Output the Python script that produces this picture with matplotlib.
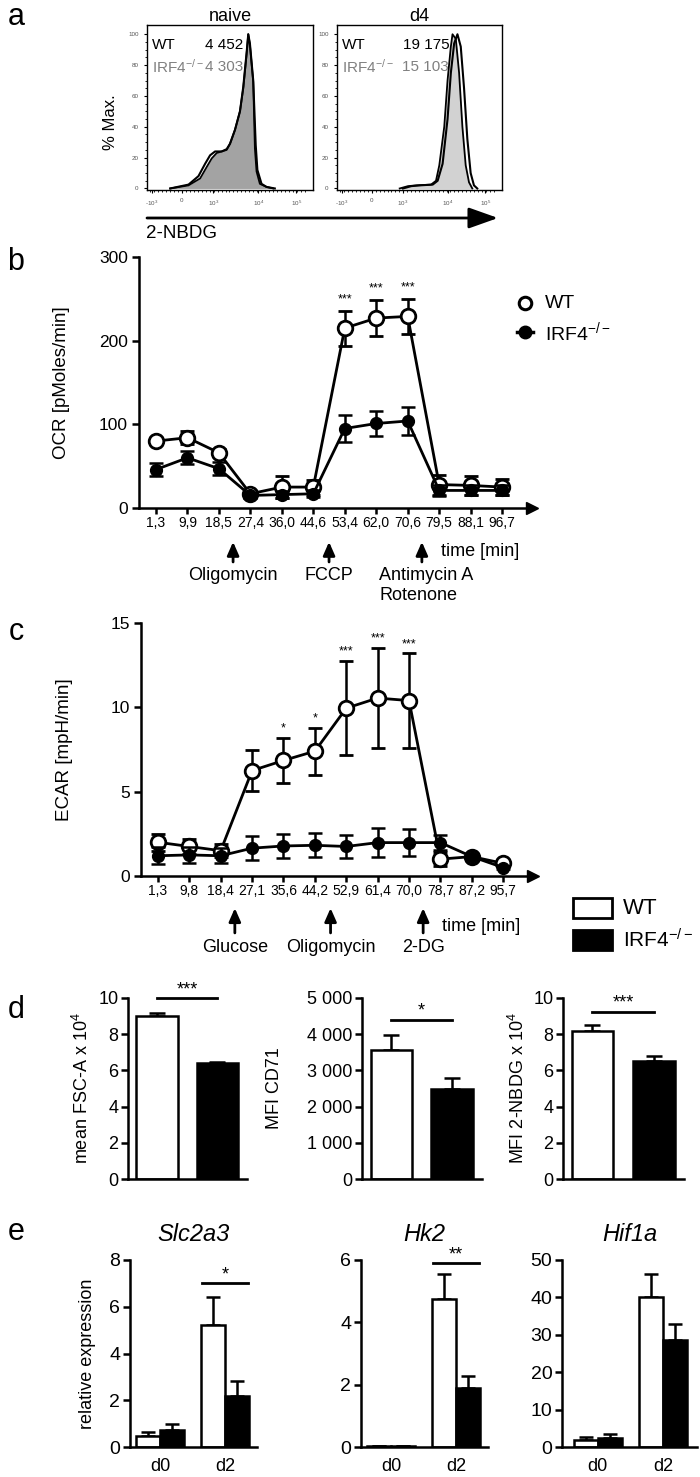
import matplotlib
matplotlib.use('Agg')
import matplotlib.pyplot as plt
from matplotlib.patches import Rectangle, FancyArrowPatch
import numpy as np

plt.rcParams['font.family'] = ['Liberation Sans', 'DejaVu Sans']
plt.rcParams['mathtext.fontset'] = 'custom'
plt.rcParams['mathtext.rm'] = 'Liberation Sans'
plt.rcParams['mathtext.it'] = 'Liberation Sans:italic'

W, H = 700, 1477

#
# DATA
#
# a : 2-NBDG histograms, x = position on biexponential display (0..1), y = % max
naive_ko_x = [0.14, 0.25, 0.32, 0.36, 0.39, 0.42, 0.45, 0.48, 0.50, 0.53, 0.56, 0.58, 0.60, 0.61, 0.62, 0.64, 0.65, 0.66, 0.68, 0.72, 0.76]
naive_ko_y = [0, 2, 6.5, 14, 19.5, 23, 24, 25, 29, 38, 50, 65, 87, 100, 93, 69, 26, 11, 3, 1, 0]
naive_wt_x = [0.14, 0.25, 0.31, 0.35, 0.38, 0.41, 0.45, 0.48, 0.50, 0.53, 0.56, 0.58, 0.60, 0.61, 0.62, 0.64, 0.655, 0.665, 0.69, 0.72, 0.77]
naive_wt_y = [0, 2.5, 8, 16, 21.5, 24, 24, 25.5, 29, 38, 50, 66, 88, 100, 94, 70, 28, 12, 3, 1, 0]
d4_ko_x = [0.38, 0.43, 0.48, 0.57, 0.60, 0.62, 0.65, 0.67, 0.69, 0.70, 0.72, 0.74, 0.76, 0.78, 0.80, 0.82]
d4_ko_y = [0, 1.5, 2, 2.5, 5, 15, 40, 70, 92, 100, 97, 75, 40, 15, 4, 0]
d4_wt_x = [0.40, 0.45, 0.50, 0.58, 0.61, 0.64, 0.67, 0.69, 0.71, 0.73, 0.75, 0.77, 0.79, 0.81, 0.83, 0.85]
d4_wt_y = [0, 1.5, 2, 2.5, 5, 16, 45, 75, 94, 100, 92, 65, 32, 10, 2, 0]
a_ticks = [0.03, 0.21, 0.40, 0.67, 0.90]
a_ticklabels = ['-10$^{3}$', '0', '10$^{3}$', '10$^{4}$', '10$^{5}$']
a_mfi = {'naive': ('4 452', '4 303'), 'd4': ('19 175', '15 103')}

# b : OCR
ocr_time = ['1,3', '9,9', '18,5', '27,4', '36,0', '44,6', '53,4', '62,0', '70,6', '79,5', '88,1', '96,7']
ocr_wt = [80, 84, 66, 17, 25, 25, 215, 227, 229, 28, 27, 25]
ocr_wt_err = [4, 8, 4, 3, 13, 9, 21, 22, 21, 12, 11, 10]
ocr_ko = [46, 60, 47, 15, 16, 17, 95, 101, 104, 21, 21, 21]
ocr_ko_err = [8, 8, 8, 3, 4, 4, 16, 15, 17, 7, 6, 6]
ocr_sig = ['', '', '', '', '', '', '***', '***', '***', '', '', '']
ocr_inject = ['Oligomycin', 'FCCP', 'Antimycin A\nRotenone']

# c : ECAR
ecar_time = ['1,3', '9,8', '18,4', '27,1', '35,6', '44,2', '52,9', '61,4', '70,0', '78,7', '87,2', '95,7']
ecar_wt = [2.0, 1.75, 1.5, 6.25, 6.85, 7.4, 9.95, 10.55, 10.4, 1.0, 1.15, 0.75]
ecar_wt_err = [0.5, 0.45, 0.4, 1.2, 1.35, 1.4, 2.8, 2.95, 2.8, 0.4, 0.1, 0.1]
ecar_ko = [1.2, 1.25, 1.2, 1.65, 1.78, 1.82, 1.75, 1.98, 1.98, 1.98, 1.15, 0.5]
ecar_ko_err = [0.5, 0.45, 0.45, 0.7, 0.72, 0.72, 0.7, 0.85, 0.8, 0.45, 0.1, 0.1]
ecar_sig = ['', '', '', '', '*', '*', '***', '***', '***', '', '', '']
ecar_inject = ['Glucose', 'Oligomycin', '2-DG']

# d : size / CD71 / 2-NBDG, [WT, IRF4-/-]
fsc = [9.0, 6.4]
fsc_err = [0.15, 0.05]
cd71 = [3550, 2500]
cd71_err = [420, 300]
nbdg = [8.2, 6.5]
nbdg_err = [0.3, 0.3]

# e : qPCR, [d0, d2]
e_days = ['d0', 'd2']
slc_wt = [0.45, 5.2]
slc_wt_err = [0.18, 1.2]
slc_ko = [0.72, 2.17]
slc_ko_err = [0.25, 0.65]
hk2_wt = [0.02, 4.75]
hk2_wt_err = [0.0, 0.8]
hk2_ko = [0.02, 1.9]
hk2_ko_err = [0.0, 0.38]
hif_wt = [1.8, 40.2]
hif_wt_err = [0.9, 6.0]
hif_ko = [2.5, 28.6]
hif_ko_err = [0.9, 4.4]

fig = plt.figure(figsize=(W / 100, H / 100), dpi=100)


def add_ax(l, t, r, b):
    return fig.add_axes([l / W, 1 - b / H, (r - l) / W, (b - t) / H])


def ftext(x, y, s, **kw):
    fig.text(x / W, 1 - y / H, s, **kw)


def prism(ax, lw=1.8):
    for s in ['top', 'right']:
        ax.spines[s].set_visible(False)
    for s in ['left', 'bottom']:
        ax.spines[s].set_linewidth(lw)
    ax.tick_params(width=lw, length=5, direction='out')


def label_x(ax, xpix):
    l = ax.get_position().x0 * W
    w = ax.get_position().width * W
    return (xpix - l) / w


#
# a
#
grey_ko = '#808080'
for l, r, name, kx, ky, wx, wy, fill, xr in [
        (147, 313, 'naive', naive_ko_x, naive_ko_y, naive_wt_x, naive_wt_y, '#a3a3a3', 0.58),
        (337, 502, 'd4', d4_ko_x, d4_ko_y, d4_wt_x, d4_wt_y, '#d2d2d2', 0.68)]:
    ax = add_ax(l, 25, r, 190)
    ax.fill_between(kx, ky, color=fill, lw=0)
    ax.plot(kx, ky, color='k', lw=1.3)
    ax.plot(wx, wy, color='k', lw=1.5)
    ax.set_xlim(0, 1)
    ax.set_ylim(-1, 106)
    ax.set_xticks(a_ticks, a_ticklabels)
    ax.set_yticks(range(0, 101, 20))
    ax.set_xticks(np.linspace(0.02, 0.95, 40), minor=True)
    ax.set_yticks(range(0, 101, 5), minor=True)
    ax.tick_params(labelsize=4.5, labelcolor='#555', length=2.5, width=0.8)
    ax.tick_params(which='minor', length=1.5, width=0.6)
    for s in ax.spines.values():
        s.set_linewidth(1.0)
    ax.set_title(name, fontsize=13, pad=3)
    wt_v, ko_v = a_mfi[name]
    ax.text(0.03, 93, 'WT', fontsize=11, va='center')
    ax.text(xr, 93, wt_v, fontsize=11, va='center', ha='right')
    ax.text(0.03, 79, 'IRF4$^{-/-}$', fontsize=11, va='center', color=grey_ko)
    ax.text(xr, 79, ko_v, fontsize=11, va='center', ha='right', color=grey_ko)

ftext(111, 122, '% Max.', fontsize=12, rotation=90, ha='center', va='center')
fig.add_artist(FancyArrowPatch((147 / W, 1 - 218 / H), (498 / W, 1 - 218 / H),
                               transform=fig.transFigure, color='k', lw=2,
                               arrowstyle='-|>,head_length=0.9,head_width=0.32',
                               mutation_scale=20, shrinkA=0, shrinkB=0))
ftext(146, 234, '2-NBDG', fontsize=13.5, va='center')

#
# b and c
#
def seahorse(ax, labels, wt, wt_err, ko, ko_err, sig, sig_off, inject, yl, yt, ylab, ylab_x, arr, time_y):
    x = np.arange(1, len(labels) + 1)
    ax.errorbar(x, wt, yerr=wt_err, color='k', lw=2, elinewidth=1.8, capsize=5, capthick=1.8,
                marker='o', ms=10.5, mfc='white', mec='k', mew=2, zorder=3)
    ax.errorbar(x, ko, yerr=ko_err, color='k', lw=2, elinewidth=1.8, capsize=5, capthick=1.8,
                marker='o', ms=8.5, mfc='k', mec='k', zorder=4)
    for xi, m, e, s in zip(x, wt, wt_err, sig):
        if s:
            ax.text(xi, m + e + sig_off, s, ha='center', va='bottom', fontsize=9)
    prism(ax)
    ax.set_xlim(0.46, 12.95)
    ax.set_ylim(*yl)
    ax.set_yticks(yt)
    ax.set_xticks(x, labels)
    ax.tick_params(axis='x', labelsize=10, length=4, pad=2)
    ax.tick_params(axis='y', labelsize=12.5, length=5, pad=3)
    ax.plot(1, 0, '>k', ms=9, transform=ax.get_yaxis_transform(), clip_on=False)
    ax.set_ylabel(ylab, fontsize=13.5)
    ax.yaxis.set_label_coords(label_x(ax, ylab_x), 0.5)
    tr = ax.get_xaxis_transform()
    for xa, name in zip([3.45, 6.5, 9.45], inject):
        ax.annotate('', xy=(xa, arr[0]), xytext=(xa, arr[1]), xycoords=tr, textcoords=tr,
                    arrowprops=dict(arrowstyle='-|>,head_length=0.5,head_width=0.22', color='k',
                                    lw=2, mutation_scale=16, shrinkA=0, shrinkB=0),
                    annotation_clip=False)
        multi = '\n' in name
        ax.text(xa - 1.35 if multi else xa, arr[2], name, transform=tr, fontsize=13,
                ha='left' if multi else 'center', va='top', linespacing=1.25)
    ax.text(10.05, time_y, 'time [min]', transform=tr, fontsize=13, va='center')


ax_b = add_ax(139, 257, 532, 508)
seahorse(ax_b, ocr_time, ocr_wt, ocr_wt_err, ocr_ko, ocr_ko_err, ocr_sig, 6, ocr_inject,
         (0, 300), [0, 100, 200, 300], 'OCR [pMoles/min]', 70,
         (-0.135, -0.215, -0.235), -0.175)

ax_c = add_ax(141, 623, 533, 876)
seahorse(ax_c, ecar_time, ecar_wt, ecar_wt_err, ecar_ko, ecar_ko_err, ecar_sig, 0.2, ecar_inject,
         (0, 15), [0, 5, 10, 15], 'ECAR [mpH/min]', 73,
         (-0.127, -0.225, -0.25), -0.2)

# legend b
ax_b.plot([525 / W], [1 - 303 / H], 'o', ms=9, mfc='white', mec='k', mew=2.2,
          transform=fig.transFigure, clip_on=False)
ax_b.plot([517 / W, 533 / W], [1 - 332 / H] * 2, '-', color='k', lw=2.5,
          transform=fig.transFigure, clip_on=False)
ax_b.plot([525 / W], [1 - 332 / H], 'o', ms=9, mfc='k', mec='k',
          transform=fig.transFigure, clip_on=False)
ftext(545, 303, 'WT', fontsize=14, va='center')
ftext(545, 332, 'IRF4$^{-/-}$', fontsize=14, va='center')

# legend d/e
fig.add_artist(Rectangle((573 / W, 1 - 918 / H), 39 / W, 20 / H, transform=fig.transFigure,
                         fc='white', ec='k', lw=2))
fig.add_artist(Rectangle((573 / W, 1 - 950 / H), 39 / W, 20 / H, transform=fig.transFigure,
                         fc='k', ec='k', lw=2))
ftext(623, 908, 'WT', fontsize=16, va='center')
ftext(623, 940, 'IRF4$^{-/-}$', fontsize=15, va='center')

#
# d
#
def bar2(ax, vals, errs, yl, yt, ylab, ylab_x, sig_y, sig, ytl=None):
    x = np.arange(2)
    ax.bar(x, vals, 0.68, color=['white', 'k'], edgecolor='k', lw=1.8, zorder=2)
    ax.errorbar(x, vals, yerr=[np.zeros(2), errs], fmt='none', ecolor='k', elinewidth=1.8,
                capsize=6, capthick=1.8, zorder=1)
    prism(ax)
    ax.set_xlim(-0.48, 1.49)
    ax.set_ylim(*yl)
    ax.set_yticks(yt)
    if ytl:
        ax.set_yticklabels(ytl)
    ax.set_xticks([])
    ax.tick_params(axis='y', labelsize=13, length=5, pad=2)
    ax.set_ylabel(ylab, fontsize=13)
    ax.yaxis.set_label_coords(label_x(ax, ylab_x), 0.5)
    ax.plot([0, 1], [sig_y, sig_y], color='k', lw=2, clip_on=False)
    ax.text(0.5, sig_y, sig, ha='center', va='bottom', fontsize=13, clip_on=False)


ax_d1 = add_ax(128, 998, 247, 1179)
bar2(ax_d1, fsc, fsc_err, (0, 10), range(0, 11, 2), 'mean FSC-A x 10$^{4}$', 92, 10.0, '***')
ax_d2 = add_ax(362, 998, 482, 1179)
bar2(ax_d2, cd71, cd71_err, (0, 5000), range(0, 5001, 1000), 'MFI CD71', 283, 4400, '*',
     ['0', '1 000', '2 000', '3 000', '4 000', '5 000'])
ax_d3 = add_ax(563, 998, 684, 1179)
bar2(ax_d3, nbdg, nbdg_err, (0, 10), range(0, 11, 2), 'MFI 2-NBDG x 10$^{4}$', 528, 9.25, '***')

#
# e
#
def qpcr(ax, title, wt, wt_err, ko, ko_err, yl, yt, xl, sig_y=None, sig=''):
    x = np.arange(2)
    bw = 0.37
    ax.bar(x - bw / 2, wt, bw, color='white', edgecolor='k', lw=1.8, zorder=2)
    ax.bar(x + bw / 2, ko, bw, color='k', edgecolor='k', lw=1.8, zorder=2)
    ax.errorbar(x - bw / 2, wt, yerr=[np.zeros(2), wt_err], fmt='none', ecolor='k',
                elinewidth=1.8, capsize=5, capthick=1.8, zorder=1)
    ax.errorbar(x + bw / 2, ko, yerr=[np.zeros(2), ko_err], fmt='none', ecolor='k',
                elinewidth=1.8, capsize=5, capthick=1.8, zorder=1)
    prism(ax)
    ax.set_xlim(*xl)
    ax.set_ylim(*yl)
    ax.set_yticks(yt)
    ax.set_xticks(x, e_days)
    ax.tick_params(axis='x', length=0, labelsize=13, pad=8)
    ax.tick_params(axis='y', labelsize=14, length=5, pad=2)
    ax.set_title(title, fontsize=17, style='italic', pad=14)
    if sig:
        ax.plot([1 - bw * 0.95, 1 + bw * 0.95], [sig_y, sig_y], color='k', lw=2, clip_on=False)
        ax.text(1, sig_y, sig, ha='center', va='bottom', fontsize=13, clip_on=False)


ax_e1 = add_ax(130, 1260, 257, 1447)
qpcr(ax_e1, 'Slc2a3', slc_wt, slc_wt_err, slc_ko, slc_ko_err, (0, 8), range(0, 9, 2),
     (-0.46, 1.49), 7.0, '*')
ax_e1.set_ylabel('relative expression', fontsize=13)
ax_e1.yaxis.set_label_coords(label_x(ax_e1, 96), 0.5)
ax_e2 = add_ax(361, 1260, 488, 1447)
qpcr(ax_e2, 'Hk2', hk2_wt, hk2_wt_err, hk2_ko, hk2_ko_err, (0, 6), range(0, 7, 2),
     (-0.46, 1.49), 5.9, '**')
ax_e3 = add_ax(562, 1260, 697, 1447)
qpcr(ax_e3, 'Hif1a', hif_wt, hif_wt_err, hif_ko, hif_ko_err, (0, 50), range(0, 51, 10),
     (-0.55, 1.52))

# panel letters
for letter, y in zip('abcde', [17, 262, 632, 1010, 1232]):
    ftext(16, y, letter, fontsize=22, ha='center', va='center')

fig.savefig('out.png', dpi=100)
